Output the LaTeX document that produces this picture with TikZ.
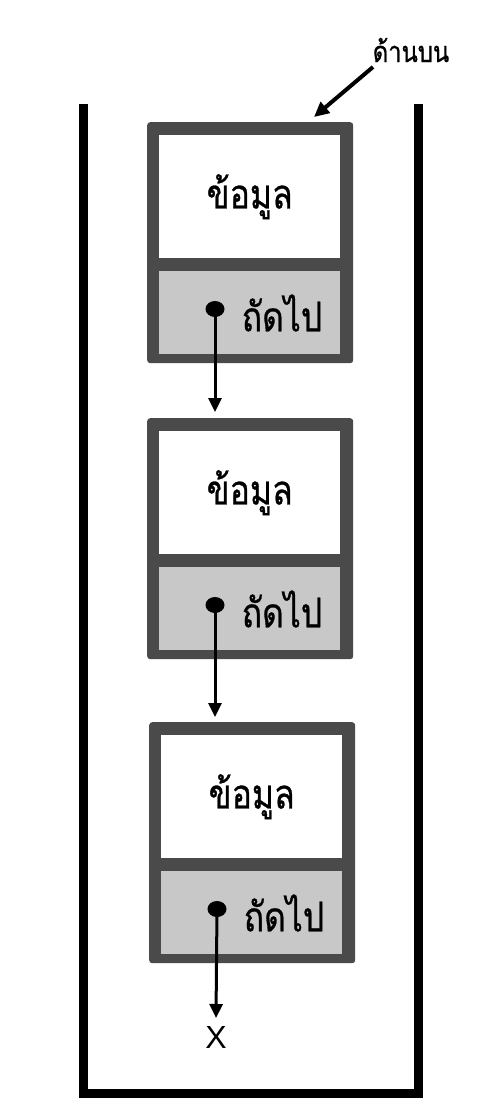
\documentclass[tikz,border=0pt]{standalone}
\usepackage{fontspec}
\setmainfont{Loma}[Script=Thai]
\newfontfamily\thaitext{Loma}[Script=Thai, FakeStretch=0.82, FakeBold=0.7]
\newfontfamily\latinsans{Liberation Sans}
\usetikzlibrary{arrows.meta, shapes.geometric}
\definecolor{boxedge}{HTML}{4A4A4A}
\definecolor{nextfill}{HTML}{C8C8C8}
\tikzset{
  outerbox/.style={fill=boxedge, rounded corners=3pt, minimum width=206pt, minimum height=241pt, inner sep=0pt, anchor=north west},
  datacell/.style={fill=white, minimum width=181pt, minimum height=123pt, inner sep=0pt, anchor=north west, font=\thaitext\fontsize{41}{46}\selectfont},
  nextcell/.style={fill=nextfill, minimum width=181pt, minimum height=83pt, inner sep=0pt, anchor=north west},
  nexttext/.style={inner sep=0pt, font=\thaitext\fontsize{41}{46}\selectfont},
  ptrdot/.style={ellipse, fill=black, minimum width=19pt, minimum height=16pt, inner sep=0pt},
  conn/.style={line width=3pt, -{Triangle[length=14pt,width=13pt]}},
  wall/.style={line width=9pt, black},
}
\begin{document}
\begin{tikzpicture}[x=1pt, y=-1pt]
\useasboundingbox (0,0) rectangle (503,1105);
\draw[wall] (83.5,104) -- (83.5,1093.5) -- (418.5,1093.5) -- (418.5,104);
\foreach \i/\L/\T in {1/147/122, 2/147/418, 3/149/722}{
  \node[outerbox] (box\i) at (\L,\T) {};
  \node[datacell] (data\i) at (\L+12,\T+13) {ข้อมูล};
  \node[nextcell] (next\i) at (\L+12,\T+149) {};
  \node[nexttext] (nexttxt\i) at (\L+135,\T+191) {ถัดไป};
  \node[ptrdot] (dot\i) at (\L+68,\T+187) {};
}
\draw[conn, shorten >=6pt] (dot1.center) -- (dot1.center |- box2.north);
\draw[conn, shorten >=5pt] (dot2.center) -- (dot2.center |- box3.north);
\coordinate (nullend) at (216,1018);
\draw[conn] (dot3.center) -- (nullend);
\node[inner sep=0pt, font=\latinsans\fontsize{32}{36}\selectfont] (nulltxt) at (216,1037) {X};
\node[inner sep=0pt, font=\thaitext\fontsize{29}{32}\selectfont] (toplbl) at (411,50) {ด้านบน};
\coordinate (topstart) at (373,67);
\coordinate (topend) at (314,117);
\draw[line width=4pt, -{Triangle[length=15pt,width=14pt]}] (topstart) -- (topend);
\end{tikzpicture}
\end{document}
